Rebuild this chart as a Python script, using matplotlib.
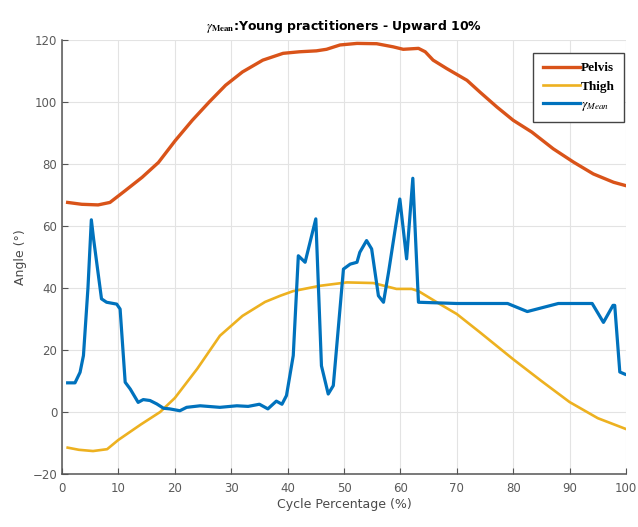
import numpy as np
import matplotlib
matplotlib.use('Agg')
import matplotlib.pyplot as plt

# (cycle percentage vs angle in degrees)
pelvis_x = [1, 3.5, 6.4, 8.5, 11.2, 14.2, 17.1, 20.1, 23.1, 26.1, 29, 32, 35.6, 39.2,
            42.1, 45.1, 46.9, 49.3, 52.3, 55.8, 58.7, 60.5, 63.2, 64.4, 65.8, 68.2,
            71.8, 74.1, 77.1, 80, 83.3, 87.1, 90.7, 94.2, 97.8, 100]
pelvis_y = [67.6, 67, 66.8, 67.6, 71.4, 75.7, 80.5, 87.6, 94.1, 100, 105.4, 109.7, 113.5,
            115.7, 116.2, 116.5, 117, 118.4, 118.9, 118.8, 117.8, 117, 117.3, 116.2,
            113.5, 110.8, 107, 103.2, 98.4, 94.1, 90.3, 84.9, 80.6, 76.8, 74.1, 73]

thigh_x = [1, 3, 5.5, 8, 10, 12, 14, 17.4, 20, 24, 28, 32, 36, 38.7, 41, 45.7, 50.5,
           55.2, 59.3, 62, 63.2, 67, 70, 74.1, 80, 85, 90, 95, 100]
thigh_y = [-11.5, -12.2, -12.6, -12, -9, -6.5, -4, 0, 4.5, 14, 24.6, 31, 35.5, 37.5,
           39, 40.7, 41.8, 41.6, 39.7, 39.7, 39, 34.8, 31.6, 25.7, 17, 10, 3.2, -2, -5.5]

gamma_x = [1, 2.3, 3.2, 3.8, 4.6, 5.2, 5.6, 7, 7.9, 9.7, 10.3, 11.2, 12.1, 13.5, 14.4,
           15.6, 16.8, 18, 19.1, 20.9, 22.1, 24.5, 28, 31, 33, 35, 36.5, 38, 39, 39.8,
           41, 41.9, 43.1, 45, 46, 47.2, 48.1, 49.9, 51.1, 52.3, 52.8, 54, 54.9, 56.1,
           57, 57.9, 59.9, 61.1, 62.2, 63.2, 70, 79, 82.5, 88, 94, 96, 97.7, 98, 98.9, 99.8]
gamma_y = [9.4, 9.4, 12.8, 18.2, 40, 62, 55.8, 36.5, 35.4, 34.8, 33.2, 9.6, 7.4, 3.1, 4,
           3.7, 2.6, 1.2, 1, 0.4, 1.5, 2, 1.5, 2, 1.8, 2.5, 1, 3.5, 2.5, 5.3,
           18.2, 50.4, 48.3, 62.3, 14.9, 5.8, 8.5, 46.1, 47.7, 48.3, 51.5, 55.3, 52.6, 37.5,
           35.4, 45.1, 68.7, 49.4, 75.4, 35.4, 35, 35, 32.4, 35, 35, 28.9, 34.4, 34.4, 12.9, 12.2]

x_ticks = np.arange(0, 101, 10)
y_ticks = np.arange(-20, 121, 20)

plt.rcParams['mathtext.fontset'] = 'stix'

fig = plt.figure(figsize=(6.38, 5.27), dpi=100)
ax = fig.add_axes([0.0972, 0.1006, 0.884, 0.8235])

ax.plot(pelvis_x, pelvis_y, color='#D95319', linewidth=2.4, label='Pelvis')
ax.plot(thigh_x, thigh_y, color='#EDB120', linewidth=1.9, label='Thigh')
ax.plot(gamma_x, gamma_y, color='#0072BD', linewidth=2.3, label=r'$\gamma_{Mean}$')

ax.set_xlim(0, 100)
ax.set_ylim(-20, 120)
ax.set_xticks(x_ticks)
ax.set_yticks(y_ticks)
ax.grid(True, color='#e3e3e3', linewidth=0.8)
ax.set_axisbelow(True)

for s in ['top', 'right']:
    ax.spines[s].set_visible(False)
for s in ['left', 'bottom']:
    ax.spines[s].set_color('#555555')
    ax.spines[s].set_linewidth(1.1)

ax.tick_params(direction='in', length=4, width=0.8, colors='#555555',
               labelsize=8.5, labelcolor='#5a5a5a')
ax.tick_params(axis='x', pad=6)

ax.set_xlabel('Cycle Percentage (%)', fontsize=9, color='#4a4a4a', labelpad=2)
ax.set_ylabel('Angle (°)', fontsize=9, color='#4a4a4a', labelpad=4)
ax.set_title(r'$\gamma_{\mathbf{Mean}}$:Young practitioners - Upward 10%',
             fontsize=9, fontweight='bold', pad=7)

leg = ax.legend(loc='upper right', bbox_to_anchor=(0.9965, 0.970), fancybox=False,
                framealpha=1, edgecolor='#444444', handlelength=2.8, handletextpad=0.1,
                borderpad=0.7, labelspacing=0.45, borderaxespad=0,
                prop={'family': 'Liberation Serif', 'weight': 'bold', 'size': 9.5})
leg.get_frame().set_linewidth(1.0)

plt.savefig('out.png', dpi=100)
plt.close()
